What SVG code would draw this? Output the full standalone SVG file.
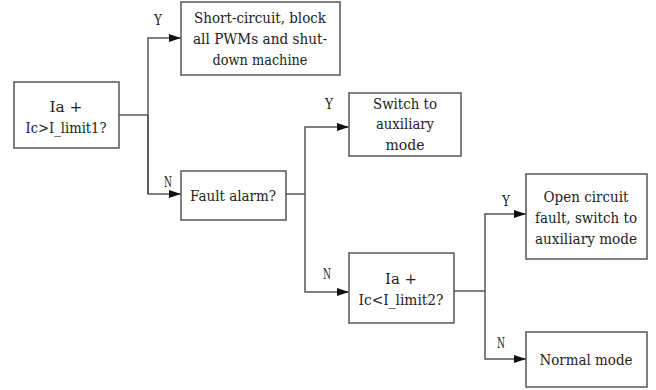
<svg xmlns="http://www.w3.org/2000/svg" width="656" height="390" viewBox="0 0 656 390">
<defs>
<marker id="arr" markerWidth="12" markerHeight="8" refX="12" refY="4" orient="auto" markerUnits="userSpaceOnUse">
<path d="M0,0 L12,4 L0,8 Z" fill="#111"/>
</marker>
<style>
.box{fill:#fff;stroke:#555;stroke-width:1.5}
.t{font-family:'DejaVu Serif',serif;font-size:15px;fill:#222;text-anchor:middle}
.l{font-family:'DejaVu Serif',serif;font-size:14px;fill:#222;text-anchor:middle}
.c{fill:none;stroke:#555;stroke-width:1.5}
</style>
</defs>
<rect width="656" height="390" fill="#fff"/>
<g id="connectors">
<path class="c" d="M119,115 H148"/>
<path class="c" d="M148,194 V38 H181" marker-end="url(#arr)"/>
<path class="c" d="M148,115 V194 H181" marker-end="url(#arr)"/>
<path class="c" d="M286,194 H305"/>
<path class="c" d="M305,194 V127 H349" marker-end="url(#arr)"/>
<path class="c" d="M305,194 V292 H349" marker-end="url(#arr)"/>
<path class="c" d="M454,291 H485"/>
<path class="c" d="M485,291 V214 H526" marker-end="url(#arr)"/>
<path class="c" d="M485,291 V359 H526" marker-end="url(#arr)"/>
<text class="l" x="158" y="25" textLength="8" lengthAdjust="spacingAndGlyphs">Y</text>
<text class="l" x="168" y="187" textLength="8" lengthAdjust="spacingAndGlyphs">N</text>
<text class="l" x="329" y="109" textLength="8" lengthAdjust="spacingAndGlyphs">Y</text>
<text class="l" x="327" y="279" textLength="8" lengthAdjust="spacingAndGlyphs">N</text>
<text class="l" x="506" y="206" textLength="8" lengthAdjust="spacingAndGlyphs">Y</text>
<text class="l" x="501" y="348" textLength="8" lengthAdjust="spacingAndGlyphs">N</text>
</g>
<g id="n1">
<rect class="box" x="14" y="82" width="105" height="66"/>
<text class="t" x="66" y="112" textLength="33" lengthAdjust="spacingAndGlyphs">Ia +</text>
<text class="t" x="66" y="133" textLength="81" lengthAdjust="spacingAndGlyphs">Ic&gt;I_limit1?</text>
</g>
<g id="n2">
<rect class="box" x="181" y="2" width="159" height="73"/>
<text class="t" x="260" y="23" textLength="132" lengthAdjust="spacingAndGlyphs">Short-circuit, block</text>
<text class="t" x="260" y="44" textLength="134" lengthAdjust="spacingAndGlyphs">all PWMs and shut-</text>
<text class="t" x="260" y="65" textLength="95" lengthAdjust="spacingAndGlyphs">down machine</text>
</g>
<g id="n3">
<rect class="box" x="181" y="171" width="105" height="49"/>
<text class="t" x="233" y="201" textLength="86" lengthAdjust="spacingAndGlyphs">Fault alarm?</text>
</g>
<g id="n4">
<rect class="box" x="349" y="93" width="112" height="63"/>
<text class="t" x="405" y="109" textLength="64" lengthAdjust="spacingAndGlyphs">Switch to</text>
<text class="t" x="405" y="129" textLength="58" lengthAdjust="spacingAndGlyphs">auxiliary</text>
<text class="t" x="405" y="150" textLength="39" lengthAdjust="spacingAndGlyphs">mode</text>
</g>
<g id="n5">
<rect class="box" x="349" y="253" width="105" height="70"/>
<text class="t" x="401" y="284" textLength="32" lengthAdjust="spacingAndGlyphs">Ia +</text>
<text class="t" x="401" y="305" textLength="85" lengthAdjust="spacingAndGlyphs">Ic&lt;I_limit2?</text>
</g>
<g id="n6">
<rect class="box" x="526" y="174" width="121" height="85"/>
<text class="t" x="586" y="202" textLength="85" lengthAdjust="spacingAndGlyphs">Open circuit</text>
<text class="t" x="586" y="223" textLength="102" lengthAdjust="spacingAndGlyphs">fault, switch to</text>
<text class="t" x="586" y="244" textLength="102" lengthAdjust="spacingAndGlyphs">auxiliary mode</text>
</g>
<g id="n7">
<rect class="box" x="526" y="332" width="121" height="55"/>
<text class="t" x="586" y="365" textLength="93" lengthAdjust="spacingAndGlyphs">Normal mode</text>
</g>
</svg>
